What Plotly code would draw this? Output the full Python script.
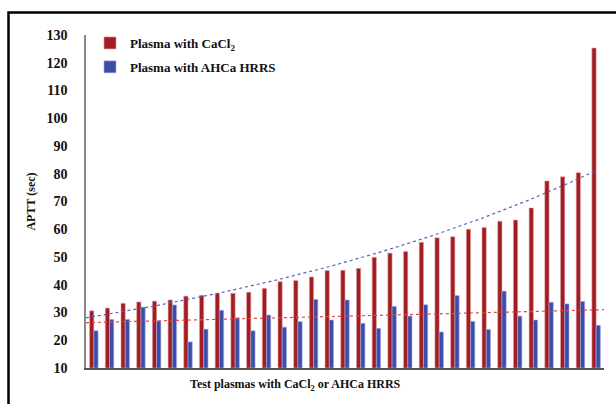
import numpy as np
import plotly.graph_objects as go

samples = list(range(1, 34))
cacl2 = [30.6, 31.6, 33.3, 33.8, 34.1, 34.5, 35.9, 36.2, 36.9, 36.9, 37.3,
         38.7, 41.1, 41.5, 42.8, 45.1, 45.2, 45.9, 49.9, 51.4, 52.0, 55.3,
         56.9, 57.3, 60.0, 60.6, 62.9, 63.3, 67.7, 77.4, 78.9, 80.4, 125.3]
ahca = [23.4, 27.5, 27.5, 31.9, 27.0, 32.7, 19.4, 24.0, 30.8, 28.1, 23.4,
        29.1, 24.7, 26.7, 34.7, 27.3, 34.5, 26.1, 24.3, 32.2, 28.7, 32.8,
        23.0, 36.1, 26.8, 23.9, 37.7, 28.7, 27.3, 33.7, 33.1, 34.0, 25.4]
y_ticks = [10, 20, 30, 40, 50, 60, 70, 80, 90, 100, 110, 120, 130]

RED = "#A11D23"
BLUE = "#3C4DA9"
FONT = "Liberation Serif"

x = np.array(samples, dtype=float)
# trendlines computed from the data
lin = np.polyfit(x, np.array(ahca), 1)
expc = np.polyfit(x, np.log(np.array(cacl2)), 1)
xt_lin = np.linspace(0.5, 33.5, 200)
xt_exp = np.linspace(0.5, 33.0, 200)
lin_y = np.polyval(lin, xt_lin)
exp_y = np.exp(np.polyval(expc, xt_exp))

fig = go.Figure()
fig.add_trace(go.Bar(x=samples, y=[v - 10 for v in cacl2], base=10,
                     name="Plasma with CaCl<sub>2</sub>", legendgroup="a",
                     marker=dict(color=RED, line=dict(color="#E0A0A3", width=0.6))))
fig.add_trace(go.Bar(x=samples, y=[v - 10 for v in ahca], base=10,
                     name="Plasma with AHCa HRRS", legendgroup="b",
                     marker=dict(color=BLUE, line=dict(color="#A3AEE0", width=0.6))))
fig.add_trace(go.Scatter(x=xt_lin, y=lin_y, mode="lines", showlegend=False,
                         line=dict(color="#DB4A48", width=1.2, dash="dot"), hoverinfo="skip"))
fig.add_trace(go.Scatter(x=xt_exp, y=exp_y, mode="lines", showlegend=False,
                         line=dict(color="#5560BE", width=1.2, dash="dot"), hoverinfo="skip"))

fig.update_layout(
    width=616, height=404,
    margin=dict(l=86, r=12, t=35, b=36),
    paper_bgcolor="white", plot_bgcolor="white",
    barmode="group", bargap=0.46, bargroupgap=0,
    font=dict(family=FONT, color="#111111"),
    legend=dict(x=4 / 518, y=1 + 7 / 333, xanchor="left", yanchor="top", xref="paper", yref="paper",
                font=dict(family=FONT, size=13, color="#111111", weight="bold"),
                bgcolor="rgba(0,0,0,0)", itemwidth=30, tracegroupgap=4,
                traceorder="grouped"),
    xaxis=dict(range=[0.5, 33.5], showticklabels=False, ticks="", showgrid=False,
               showline=True, linecolor="#555555", linewidth=2, zeroline=False),
    yaxis=dict(range=[10, 130], tickvals=y_ticks, ticktext=[str(t) for t in y_ticks],
               showgrid=False, showline=True, linecolor="#888888", linewidth=1.5,
               zeroline=False, ticks="", ticklabelstandoff=14,
               tickfont=dict(family=FONT, size=14, color="#111111", weight="bold"),
               title=dict(text="<b>APTT (sec)</b>", font=dict(family=FONT, size=12, color="#111111"),
                          standoff=8)),
    annotations=[dict(text="<b>Test plasmas with CaCl<sub>2</sub> or AHCa HRRS</b>",
                      xref="paper", yref="paper", x=(295 - 86) / 518, y=0,
                      xanchor="center", yanchor="middle", yshift=-17, showarrow=False,
                      font=dict(family=FONT, size=12, color="#111111"))],
)

# outer black frame (partially visible, as in the original figure)
fig.add_shape(type="rect", xref="paper", yref="paper",
              x0=-77.5 / 518, x1=1.1, y0=-0.3, y1=1 + 22.5 / 333,
              line=dict(color="black", width=2.5), fillcolor="rgba(0,0,0,0)", layer="above")

fig.write_html("out.html")
